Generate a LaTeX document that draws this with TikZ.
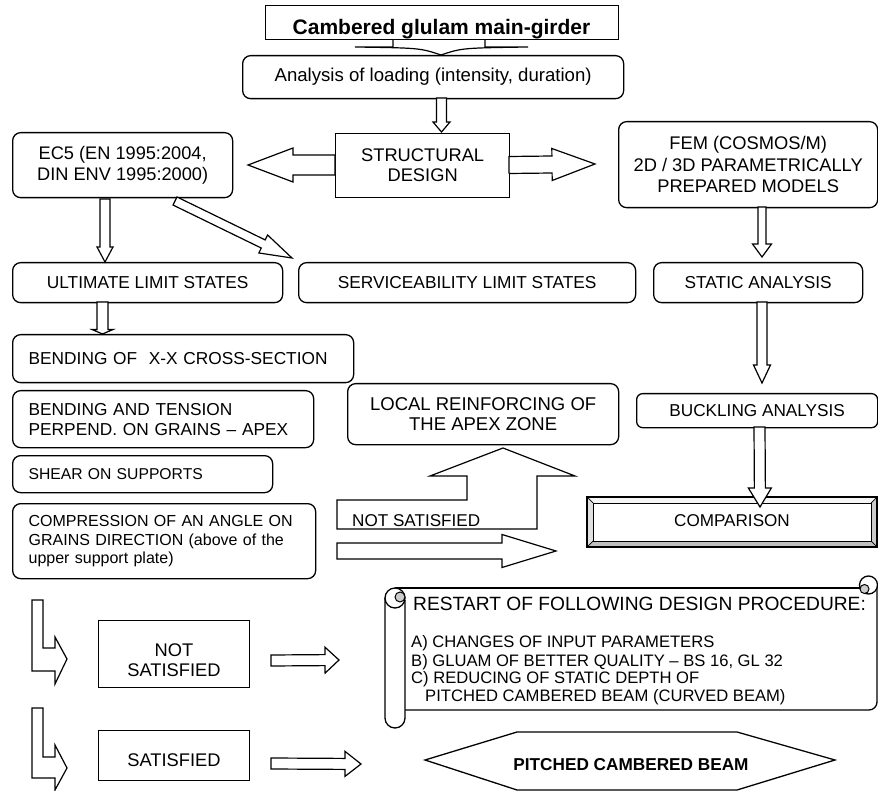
\documentclass[tikz,border=0pt]{standalone}
\usepackage{fontspec}
\setmainfont{Liberation Sans}
\usetikzlibrary{calc}
\tikzset{
  lw/.style={line width=1.3pt},
  rbox/.style={draw, lw, rounded corners=8pt, fill=white, inner sep=0pt, anchor=north west},
  sbox/.style={draw, lw, fill=white, inner sep=0pt, anchor=north west},
  barrow/.style={draw, line width=1.2pt, fill=white, line join=miter},
  fs/.style 2 args={font=\fontsize{#1pt}{#2pt}\selectfont},
  lbox/.style={rbox, align=left, inner xsep=16pt}
}
\newcommand\blockarrow[5]{%
  \coordinate (ba-t) at (#1);
  \coordinate (ba-h) at (#2);
  \coordinate (ba-b) at ($(ba-h)!#5!(ba-t)$);
  \draw[barrow] ($(ba-t)!#3!90:(ba-h)$) -- ($(ba-b)!#3!90:(ba-h)$) -- ($(ba-b)!#4!90:(ba-h)$) -- (ba-h)
     -- ($(ba-b)!#4!-90:(ba-h)$) -- ($(ba-b)!#3!-90:(ba-h)$) -- ($(ba-t)!#3!-90:(ba-h)$) -- cycle;
}
\begin{document}
\begin{tikzpicture}[x=1pt,y=-1pt]
\useasboundingbox (0,0) rectangle (878,791);
\fill[white] (0,0) rectangle (878,791);

% title and its connector
\draw[barrow] (393,39) -- (393,47) -- (355,47) .. controls (420,48) .. (441,55) .. controls (462,48) .. (528,47) -- (485,47) -- (485,39);
\node[sbox, minimum width=353pt, minimum height=34pt] (title) at (265,5) {};
\node[font=\bfseries\fontsize{21pt}{24pt}\selectfont, anchor=base] (titletext) at (441.5,35) {Cambered glulam main-girder};

\node[rbox, fs={18.6}{22}, minimum width=381pt, minimum height=43pt] (ana) at (242,55) {Analysis of loading (intensity, duration)};

\node[sbox, fs={18.3}{20}, align=center, minimum width=174pt, minimum height=64pt] (struct) at (335,133) {STRUCTURAL\\DESIGN};
\node[rbox, fs={18.2}{21}, align=center, minimum width=220pt, minimum height=65pt] (ec5) at (12,132) {EC5 (EN 1995:2004,\\DIN ENV 1995:2000)};
\node[rbox, fs={18.3}{21.7}, align=center, minimum width=259pt, minimum height=86pt] (fem) at (618,121) {FEM (COSMOS/M)\\2D / 3D PARAMETRICALLY\\PREPARED MODELS};

\node[rbox, fs={17.3}{20}, minimum width=270pt, minimum height=40pt] (uls) at (12,262) {ULTIMATE LIMIT STATES};
\node[rbox, fs={17.3}{20}, minimum width=337pt, minimum height=40pt] (sls) at (298,262) {SERVICEABILITY LIMIT STATES};
\node[rbox, fs={17.3}{20}, minimum width=209pt, minimum height=40pt] (sta) at (653,262) {STATIC ANALYSIS};

\node[lbox, fs={17.3}{20}, text width=309pt, minimum height=48pt] (bxx) at (12,334) {BENDING OF~ X-X CROSS-SECTION};
\node[lbox, fs={17.3}{20}, text width=269pt, minimum height=57pt] (bte) at (12,390) {BENDING AND TENSION\\PERPEND. ON GRAINS – APEX};
\node[lbox, fs={15.7}{18}, text width=228pt, minimum height=37pt] (shear) at (12,455) {SHEAR ON SUPPORTS};
\node[lbox, fs={16}{18.8}, text width=271pt, minimum height=75pt] (comp) at (12,503) {COMPRESSION OF AN ANGLE ON\\GRAINS DIRECTION (above of the\\upper support plate)};

\node[rbox, fs={18.5}{20}, align=center, minimum width=271pt, minimum height=61pt] (local) at (347,383) {LOCAL REINFORCING OF\\THE APEX ZONE};
\node[rbox, fs={17.2}{20}, minimum width=241pt, minimum height=34pt, rounded corners=6pt] (buck) at (636,393) {BUCKLING ANALYSIS};

% comparison (bevelled)
\fill[gray!8] (587,497) -- (877,497) -- (871,503) -- (593,503) -- cycle;
\fill[gray!25] (587,497) -- (593,503) -- (593,541) -- (587,547) -- cycle;
\fill[gray!50] (587,547) -- (593,541) -- (871,541) -- (877,547) -- cycle;
\fill[gray!40] (877,497) -- (871,503) -- (871,541) -- (877,547) -- cycle;
\draw[lw] (587,497) rectangle (877,547);
\draw[line width=0.9pt] (593,503) rectangle (871,541);
\draw[line width=0.7pt] (587,497) -- (593,503) (877,497) -- (871,503) (587,547) -- (593,541) (877,547) -- (871,541);
\node[fs={17.1}{20}] (cmp) at (732,521) {COMPARISON};

% block arrows, upper part
\blockarrow{441.5,98}{441.5,132}{5pt}{8.5pt}{10pt}
\blockarrow{335,165}{248,165}{10pt}{17pt}{45pt}
\blockarrow{509,165}{595,164}{8.5pt}{16pt}{43pt}
\blockarrow{105,199}{105,262}{5pt}{8pt}{15pt}
\blockarrow{175,201}{292,258}{4.5pt}{10pt}{32pt}
\blockarrow{762,207}{762,257}{4pt}{9.5pt}{13pt}
\blockarrow{102.5,302}{102.5,334}{5.5pt}{10.5pt}{4.5pt}
\blockarrow{762,302}{762,383}{5pt}{8.5pt}{18pt}
\blockarrow{759.5,427}{760,507}{5.5pt}{11.5pt}{19pt}

% NOT SATISFIED bent arrow up
\draw[barrow] (337,529) -- (337,500) -- (467,500) -- (467,476) -- (430,476) -- (503,448) -- (575,476) -- (537,476) -- (537,529) -- cycle;
\node[fs={17.1}{20}, anchor=base west, inner sep=0pt] (ns1) at (352,526) {NOT SATISFIED};
\blockarrow{337,551}{556,551}{8pt}{16.5pt}{54pt}

% bottom-left bent arrows
\draw[barrow] (32,600) -- (43,600) -- (43,648) -- (55,648) -- (55,637) -- (67,659) -- (55,684) -- (55,671) -- (32,671) -- cycle;
\draw[barrow] (32,708) -- (43,708) -- (43,757) -- (55,757) -- (55,745) -- (67,768) -- (55,790) -- (55,778) -- (32,778) -- cycle;

\node[sbox, minimum width=151pt, minimum height=67pt] (nsbox) at (98,620) {};
\node[fs={18.3}{20}, anchor=base, inner sep=0pt] (nst1) at (174,656.5) {NOT};
\node[fs={18.3}{20}, anchor=base, inner sep=0pt] (nst2) at (174,676.5) {SATISFIED};
\node[sbox, minimum width=151pt, minimum height=50pt] (satbox) at (98,730) {};
\node[fs={18.3}{20}, anchor=base, inner sep=0pt] (satt) at (174,766.5) {SATISFIED};

\blockarrow{271,660.5}{339,660}{5.5pt}{13pt}{14pt}
\blockarrow{271,763.5}{361,764}{5.5pt}{12.5pt}{16pt}

% scroll
\fill[white] (405,588) rectangle (877,710);
\draw[lw] (395,588) -- (868,588);
\draw[lw, rounded corners=8pt] (877,584) -- (877,710) -- (405,710);
\draw[lw, fill=white, rounded corners=10pt] (405,600) -- (405,728) -- (385,728) -- (385,598);
\draw[lw, fill=white] (395,598) circle[radius=10pt];
\draw[line width=1pt, fill=gray!40] (400,597) circle[radius=5pt];
\draw[lw, fill=white] (868.5,585) circle[radius=9pt];
\draw[line width=1pt, fill=gray!40] (864.5,589) circle[radius=4.5pt];
\node[fs={19.2}{22}, anchor=base west, inner sep=0pt] (sc1) at (413,610) {RESTART OF FOLLOWING DESIGN PROCEDURE:};
\node[fs={16.6}{18}, anchor=base west, inner sep=0pt] (sc2) at (411,647) {A) CHANGES OF INPUT PARAMETERS};
\node[fs={16.6}{18}, anchor=base west, inner sep=0pt] (sc3) at (411,666) {B) GLUAM OF BETTER QUALITY – BS 16, GL 32};
\node[fs={16.6}{18}, anchor=base west, inner sep=0pt] (sc4) at (411,683) {C) REDUCING OF STATIC DEPTH OF};
\node[fs={16.6}{18}, anchor=base west, inner sep=0pt] (sc5) at (425,701) {PITCHED CAMBERED BEAM (CURVED BEAM)};

% hexagon
\draw[lw, fill=white] (425,760) -- (517,732) -- (737,732) -- (835,760) -- (737,790) -- (517,790) -- cycle;
\node[font=\bfseries\fontsize{17.2}{20}\selectfont, anchor=base, inner sep=0pt] (pcb) at (631,770) {PITCHED CAMBERED BEAM};
\end{tikzpicture}
\end{document}
